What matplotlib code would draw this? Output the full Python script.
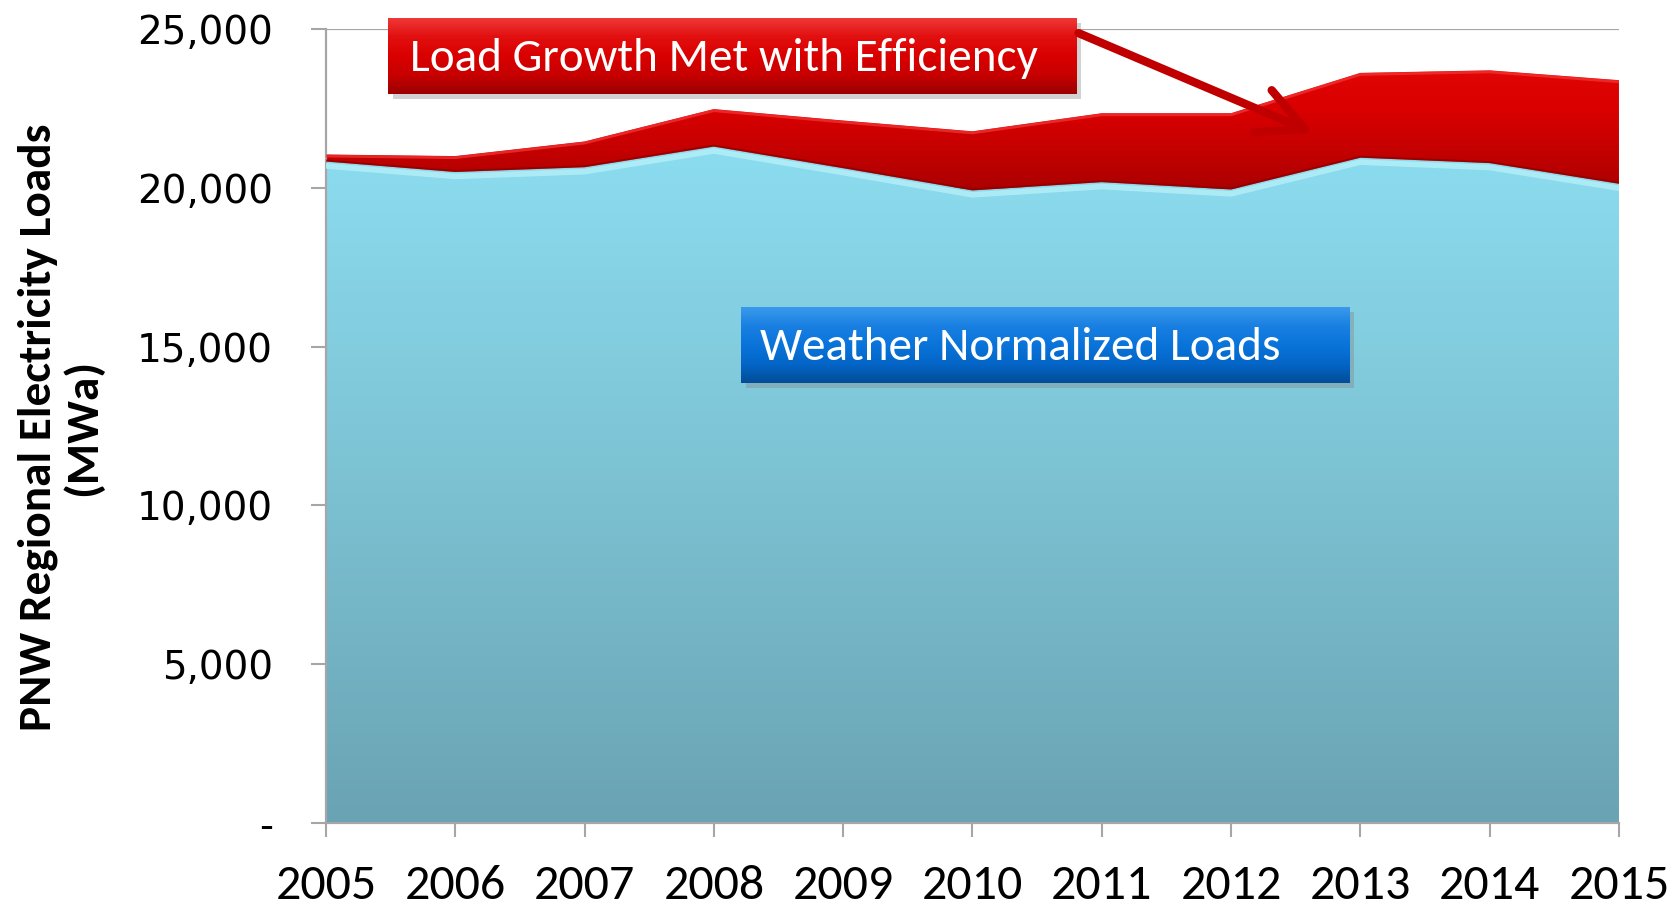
import numpy as np
import matplotlib
matplotlib.use('Agg')
import matplotlib.pyplot as plt
from matplotlib import font_manager as fm
from matplotlib.colors import LinearSegmentedColormap
from matplotlib.patches import FancyArrowPatch, Rectangle
from matplotlib.ticker import FuncFormatter

# Data (MWa)
years = [2005, 2006, 2007, 2008, 2009, 2010, 2011, 2012, 2013, 2014, 2015]
weather_normalized = [20830, 20500, 20650, 21300, 20620, 19920, 20180, 19950, 20950, 20780, 20130]
efficiency = [220, 500, 810, 1180, 1500, 1860, 2170, 2400, 2670, 2920, 3260]
yticks = [0, 5000, 10000, 15000, 20000, 25000]

years = np.array(years)
base = np.array(weather_normalized)
total = base + np.array(efficiency)

# pick a Calibri-like face if one is around
installed = {f.name for f in fm.fontManager.ttflist}
calibri = next((n for n in ['Carlito', 'Calibri', 'Liberation Sans Narrow', 'Lato'] if n in installed), 'DejaVu Sans')
verdana = next((n for n in ['Verdana', 'DejaVu Sans'] if n in installed), 'DejaVu Sans')

fig = plt.figure(figsize=(16.81, 9.05), dpi=100)
ax = fig.add_axes([0.1939, 0.0906, 0.7692, 0.8773])

# gridlines behind the areas
for v in yticks[1:]:
    ax.axhline(v, color='#A6A6A6', lw=1.6, zorder=0)

# blue area with vertical gradient
blue_cmap = LinearSegmentedColormap.from_list('b', ['#6AA3B3', '#7CC2D3', '#8CDDF0'])
poly_b = ax.fill_between(years, 0, base, color='none', zorder=1)
grad = np.linspace(0, 1, 256).reshape(-1, 1)
im_b = ax.imshow(grad, cmap=blue_cmap, origin='lower', aspect='auto',
                 extent=[2005, 2015, 0, 21500], zorder=1)
im_b.set_clip_path(poly_b.get_paths()[0], transform=ax.transData)

# red area with gradient
red_cmap = LinearSegmentedColormap.from_list('r', ['#A80000', '#C40000', '#DA0000', '#E20606'])
poly_r = ax.fill_between(years, base, total, color='none', zorder=2)
im_r = ax.imshow(grad, cmap=red_cmap, origin='lower', aspect='auto',
                 extent=[2005, 2015, 19800, 23800], zorder=2)
im_r.set_clip_path(poly_r.get_paths()[0], transform=ax.transData)

# bevel-like edges
ax.plot(years, base - 140, color='#B0EEF8', lw=4, zorder=3, alpha=0.9)
ax.plot(years, base + 30, color='#8A0000', lw=1.5, zorder=3, alpha=0.7)
ax.plot(years, total - 50, color='#F23030', lw=2, zorder=3, alpha=0.8)

ax.set_xlim(2005, 2015)
ax.set_ylim(0, 25000)
ax.set_xticks(years)
ax.set_yticks(yticks)
ax.yaxis.set_major_formatter(FuncFormatter(lambda v, p: '-' if v == 0 else f'{int(v):,}'))

for s in ['top', 'right']:
    ax.spines[s].set_visible(False)
for s in ['left', 'bottom']:
    ax.spines[s].set_color('#A6A6A6')
    ax.spines[s].set_linewidth(1.6)

ax.tick_params(axis='y', length=11, width=1.5, color='#A6A6A6', pad=27)
ax.tick_params(axis='x', length=10, width=1.5, color='#A6A6A6', pad=20)
for lab in ax.get_yticklabels():
    lab.set_fontfamily(verdana)
    lab.set_fontsize(28)
for lab in ax.get_xticklabels():
    lab.set_fontfamily(calibri)
    lab.set_fontsize(36)

fig.text(0.036, 0.528, 'PNW Regional Electricity Loads\n(MWa)', rotation=90,
         ha='center', va='center', multialignment='center',
         fontsize=34, fontweight='bold', family=calibri, linespacing=1.1)


def box(rect, colors, label, shadow='#808080'):
    x, y, w, h = rect
    fig.patches.append(Rectangle((x + 0.003, y - 0.006), w, h, transform=fig.transFigure,
                                 facecolor=shadow, alpha=0.35, edgecolor='none', zorder=4))
    bax = fig.add_axes(rect, zorder=5)
    cm = LinearSegmentedColormap.from_list('g', colors)
    bax.imshow(grad, cmap=cm, origin='lower', aspect='auto', extent=[0, 1, 0, 1])
    bax.set_xlim(0, 1)
    bax.set_ylim(0, 1)
    bax.axis('off')
    bax.text(0.032, 0.47, label, ha='left', va='center', color='white',
             fontsize=34, family=calibri)
    return bax


box([0.2308, 0.8961, 0.4093, 0.084], ['#9A0000', '#C80000', '#DA0000', '#E21010', '#F03A3A'],
    'Load Growth Met with Efficiency')
box([0.4408, 0.5768, 0.3617, 0.084], ['#034C98', '#0466C8', '#0A74DA', '#1A80E2', '#3C9CEC'],
    'Weather Normalized Loads')

arrow = FancyArrowPatch((0.6401, 0.9646), (0.7829, 0.852), transform=fig.transFigure,
                        arrowstyle='->,head_length=1.5,head_width=0.75', mutation_scale=22,
                        color='#C00000', lw=6, zorder=6)
fig.patches.append(arrow)

fig.savefig('out.png', dpi=100)
